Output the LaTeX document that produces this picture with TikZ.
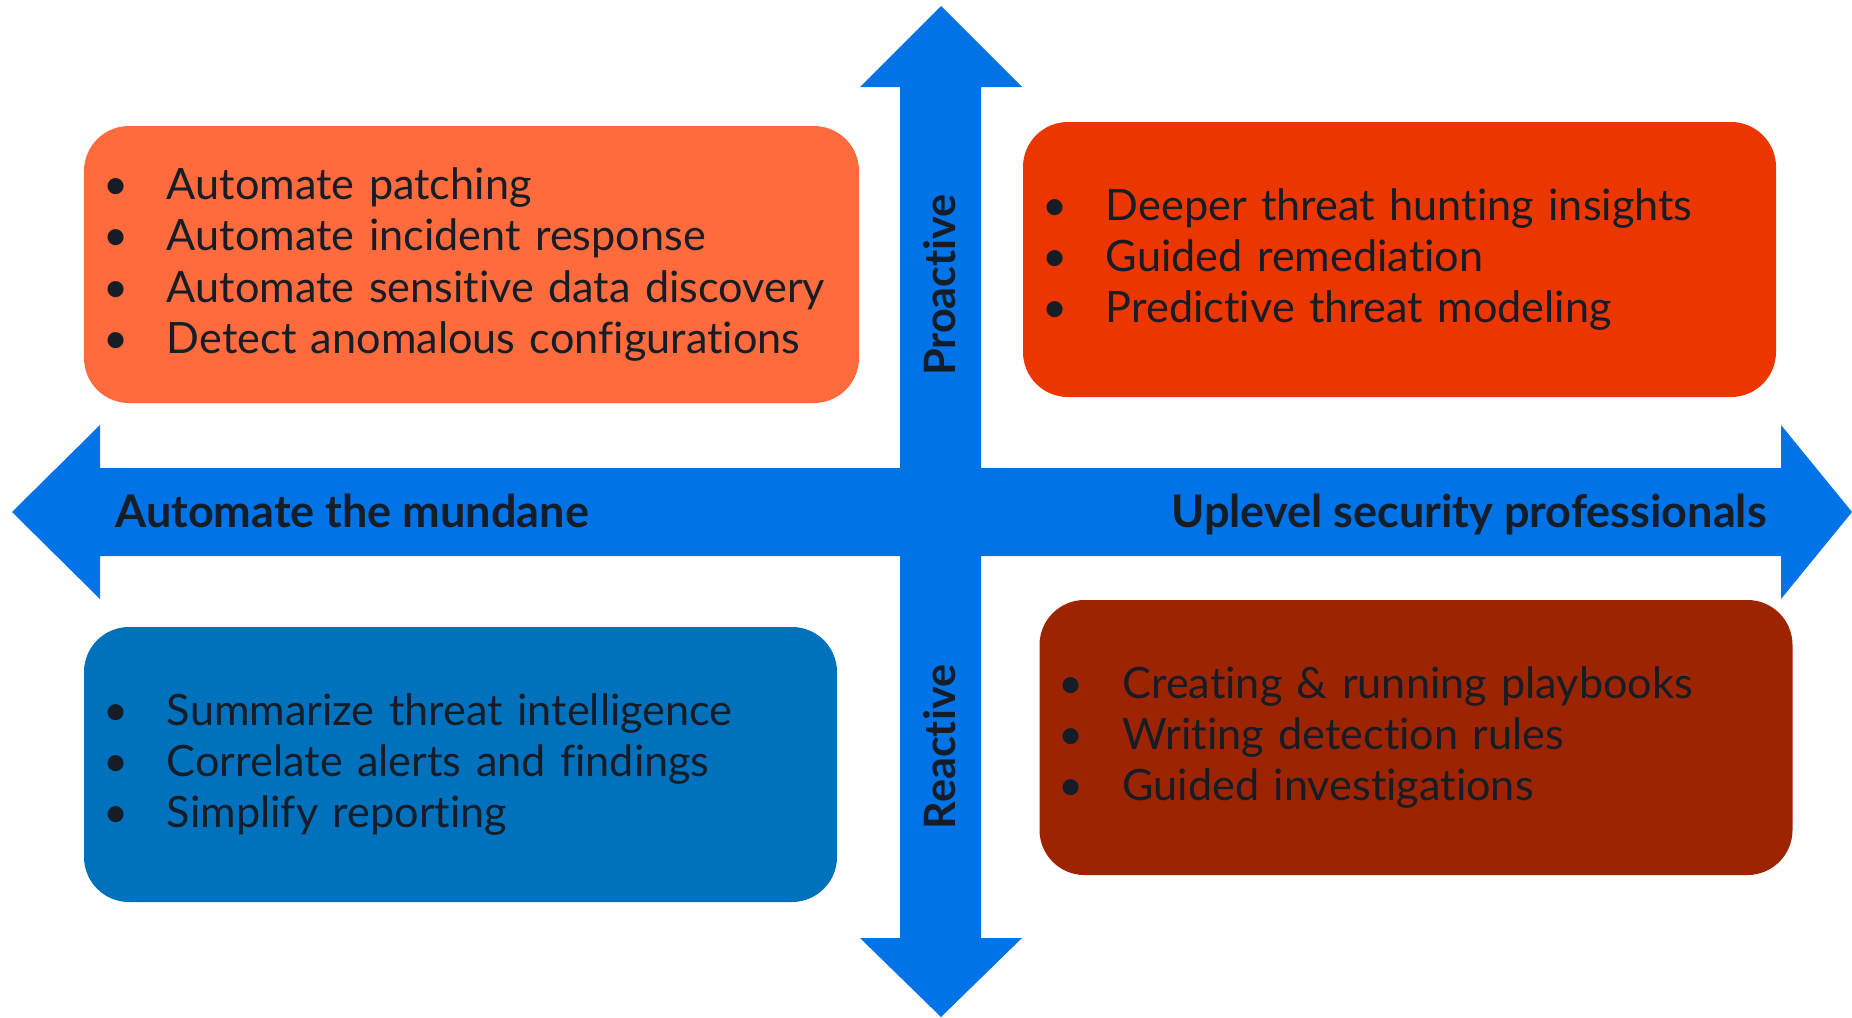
\documentclass[tikz,border=0pt]{standalone}
\usepackage{fontspec}
\setmainfont{Lato}[Ligatures={NoCommon,NoRequired,NoContextual}]
\usetikzlibrary{positioning}
\definecolor{axis}{RGB}{0,115,230}
\definecolor{ink}{RGB}{22,29,38}
\definecolor{autofill}{RGB}{255,107,61}
\definecolor{huntfill}{RGB}{235,54,0}
\definecolor{intelfill}{RGB}{0,114,189}
\definecolor{playfill}{RGB}{157,36,0}
\newcommand{\itm}[1]{\makebox[27pt][l]{\hspace{-5pt}\textbullet}#1}

\begin{document}
\begin{tikzpicture}[x=0.5pt,y=-0.5pt,
  quad/.style={rounded corners=22.5pt,minimum height=137.5pt,inner xsep=14.5pt,inner ysep=0pt,
    align=left,text=ink,font=\fontsize{21.6}{25.6}\selectfont},
  axislabel/.style={text=ink,inner sep=0pt,font=\bfseries\fontsize{22.5}{26}\selectfont},
  sidelabel/.style={axislabel,rotate=90,anchor=base,font=\bfseries\fontsize{21.6}{26}\selectfont}]
  \useasboundingbox (0,0) rectangle (1852,1017);
  \fill[axis] (12,512) -- (100,425) -- (100,468) -- (1781,468) -- (1781,425) -- (1852,512)
    -- (1781,599) -- (1781,556) -- (100,556) -- (100,599) -- cycle;
  \fill[axis] (941,6) -- (1022,87) -- (981,87) -- (981,938) -- (1022,938) -- (941,1017)
    -- (860,938) -- (900,938) -- (900,87) -- (860,87) -- cycle;
  \node[quad,fill=autofill,text width=358.5pt,minimum height=138.5pt] (auto) at (471.5,264.5)
    {\itm{Automate patching}\\\itm{Automate incident response}\\\itm{Automate sensitive data discovery}\\\itm{Detect anomalous configurations}};
  \node[quad,fill=huntfill,text width=347.5pt] (hunt) at (1399.5,259.5)
    {\itm{Deeper threat hunting insights}\\\itm{Guided remediation}\\\itm{Predictive threat modeling}};
  \node[quad,fill=intelfill,text width=347.5pt] (intel) at (460.5,764.5)
    {\itm{Summarize threat intelligence}\\\itm{Correlate alerts and findings}\\\itm{Simplify reporting}};
  \node[quad,fill=playfill,text width=347.5pt] (play) at (1416,737.5)
    {\itm{Creating \& running playbooks}\\\itm{Writing detection rules}\\\itm{Guided investigations}};
  \node[axislabel,anchor=base west] (mundane) at (115,527.7) {Automate the mundane};
  \node[axislabel,anchor=base east] (uplevel) at (1767,527.7) {Uplevel security professionals};
  \node[sidelabel] (proactive) at (955.5,285) {Proactive};
  \node[sidelabel] (reactive) at (955.5,747) {Reactive};
\end{tikzpicture}
\end{document}
